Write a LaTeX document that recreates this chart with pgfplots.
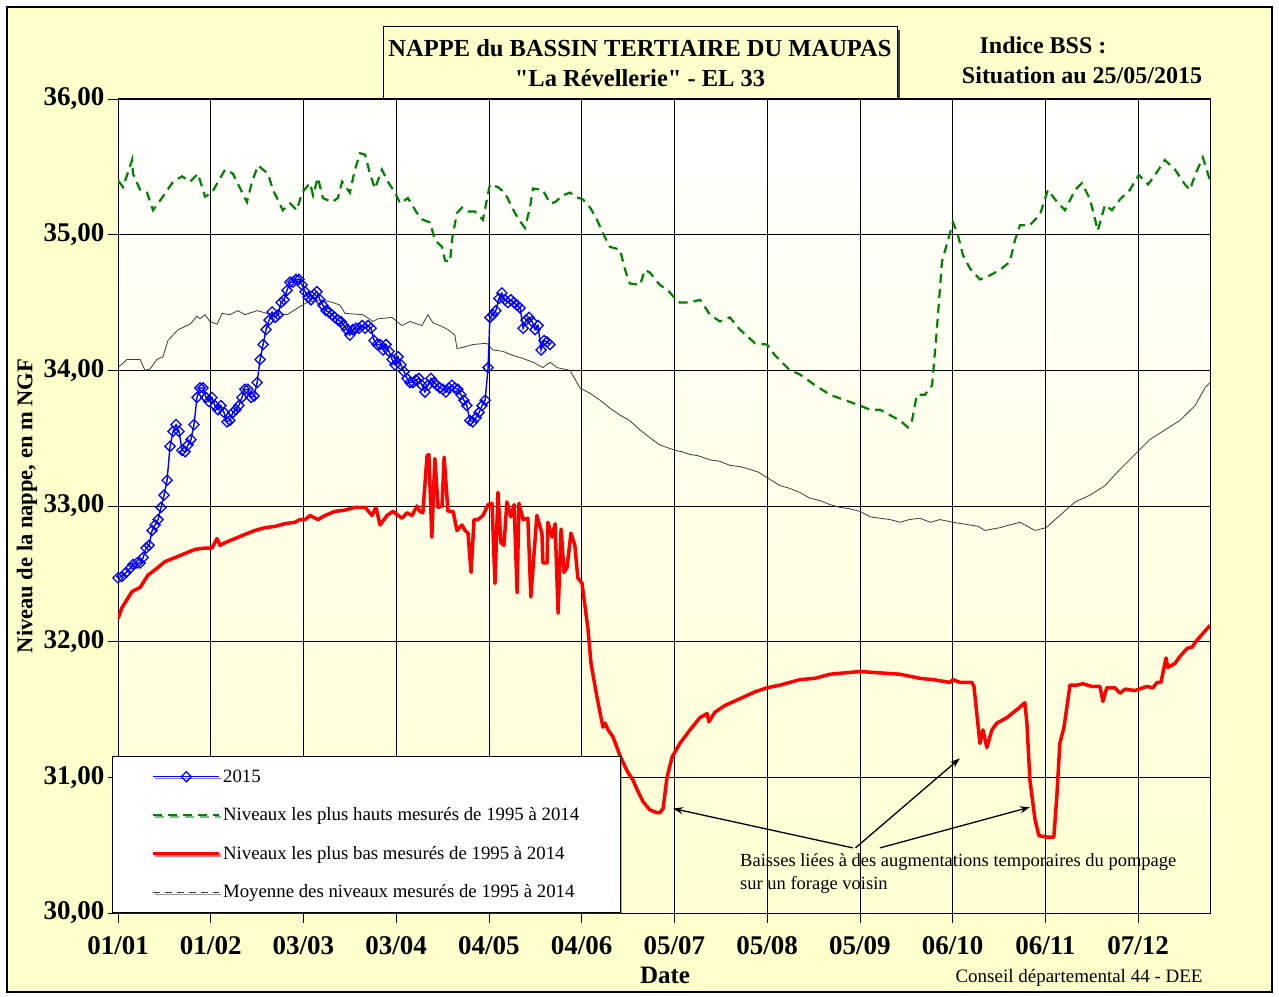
\documentclass[border=0pt]{standalone}
\usepackage{fontspec}
\setmainfont{Liberation Serif}[Ligatures=TeXOff]
\usepackage{pgfplots}
\pgfplotsset{compat=1.18}
\usetikzlibrary{arrows.meta,shadows}
\definecolor{bgyel}{RGB}{255,255,204}
\definecolor{plotyel}{RGB}{255,255,210}
\definecolor{dgreen}{RGB}{0,128,0}
\definecolor{meangray}{RGB}{60,60,60}
\begin{document}
\begin{tikzpicture}
\path[use as bounding box] (0pt,0pt) rectangle (1279pt,996pt);
\fill[white] (0pt,0pt) rectangle (1279pt,996pt);
\filldraw[fill=bgyel, draw=black, line width=2pt] (7pt,4pt) rectangle (1272pt,989pt);
% title box
\fill[black!75] (386pt,891pt) rectangle (900pt,966pt);
\filldraw[fill=bgyel, draw=black, line width=1pt] (383pt,894pt) rectangle (897pt,969pt);
\node[font=\fontsize{24.5}{28}\selectfont\bfseries] at (640pt,948pt) {NAPPE du BASSIN TERTIAIRE DU MAUPAS};
\node[font=\fontsize{24.5}{28}\selectfont\bfseries] at (640pt,918pt) {"La Révellerie" - EL 33};
\node[font=\fontsize{24}{28}\selectfont\bfseries] at (1043pt,951pt) {Indice BSS :};
\node[font=\fontsize{24}{28}\selectfont\bfseries] at (1082pt,921pt) {Situation au 25/05/2015};
\node[font=\fontsize{19}{22}\selectfont, anchor=east] at (1206pt,18pt) {Conseil départemental 44 - DEE};
\begin{axis}[
  at={(118pt,83pt)}, anchor=south west,
  width=1092pt, height=814pt, scale only axis,
  xmin=0, xmax=365, ymin=30, ymax=36,
  axis background/.style={top color=white, bottom color=plotyel},
  axis line style={black, line width=1pt},
  xtick={0,31,62,93,124,155,186,217,248,279,310,341},
  xticklabels={01/01,01/02,03/03,03/04,04/05,04/06,05/07,05/08,05/09,06/10,06/11,07/12},
  ytick={30,31,32,33,34,35,36},
  yticklabels={{30,00},{31,00},{32,00},{33,00},{34,00},{35,00},{36,00}},
  xtick pos=left, ytick pos=left,
  tick align=outside, major tick length=10pt,
  tick style={black, line width=0.8pt},
  grid=major, major grid style={black, line width=0.8pt},
  ticklabel style={font=\fontsize{27}{30}\selectfont\bfseries},
  xticklabel style={yshift=-10pt},
  xlabel={Date}, ylabel={Niveau de la nappe, en m NGF},
  every axis x label/.style={at={(axis description cs:0.501,0)}, anchor=center, yshift=-62pt, font=\fontsize{25}{28}\selectfont\bfseries},
  every axis y label/.style={at={(axis description cs:-0.0833,0.5)}, anchor=center, rotate=90, font=\fontsize{22.5}{26}\selectfont\bfseries},
  legend image code/.code={\draw[mark repeat=2,mark phase=2,#1] plot coordinates {(0pt,0pt) (33pt,0pt) (66pt,0pt)};},
  legend style={at={(rel axis cs:-0.0055,0)}, anchor=south west, draw=black, line width=1.2pt, fill=white,
     font=\fontsize{18.8}{22}\selectfont, inner xsep=39pt, inner ysep=11pt, row sep=20pt,
     drop shadow={shadow xshift=2pt, shadow yshift=-2pt, fill=black!70},
     /tikz/every even column/.append style={column sep=5pt}},
  legend cell align=left,
  clip=true,
]
% 2015
\addplot[blue, line width=1.4pt, mark=square, mark size=3.6pt, mark options={rotate=45, solid, line width=1.3pt}] coordinates {
(0,32.47)(1.3,32.48)(2.7,32.51)(4.0,32.54)(5.0,32.57)(6.4,32.58)(7.4,32.58)(8.4,32.62)(9.4,32.69)(10.4,32.71)
(11.4,32.82)(12.4,32.86)(13.4,32.90)(14.4,32.99)(15.4,33.08)(16.4,33.19)(17.4,33.44)(18.4,33.55)(19.4,33.60)(20.4,33.55)
(21.4,33.41)(22.4,33.40)(23.4,33.45)(24.4,33.49)(25.4,33.60)(26.4,33.80)(27.4,33.87)(28.4,33.87)(29.4,33.80)(30.4,33.77)
(31.4,33.80)(32.4,33.74)(33.4,33.71)(34.4,33.74)(35.4,33.69)(36.4,33.62)(37.4,33.63)(38.4,33.69)(39.4,33.71)(40.4,33.74)
(41.4,33.80)(42.4,33.86)(43.4,33.86)(44.5,33.80)(45.5,33.81)(46.5,33.91)(47.5,34.08)(48.5,34.19)(49.5,34.30)(50.5,34.37)
(51.5,34.43)(52.5,34.39)(53.5,34.41)(54.5,34.50)(55.5,34.52)(56.5,34.59)(57.5,34.65)(58.5,34.65)(59.5,34.67)(60.5,34.67)
(61.5,34.63)(62.5,34.58)(63.5,34.54)(64.5,34.52)(65.5,34.56)(66.5,34.58)(67.5,34.52)(68.5,34.48)(69.5,34.44)(70.5,34.43)
(71.5,34.41)(72.5,34.39)(73.5,34.37)(74.5,34.36)(75.5,34.33)(76.5,34.30)(77.5,34.26)(78.5,34.30)(79.5,34.31)(80.5,34.31)
(81.6,34.33)(82.6,34.31)(83.6,34.33)(84.6,34.31)(85.6,34.22)(86.6,34.19)(87.6,34.19)(88.6,34.15)(89.6,34.19)(90.6,34.14)
(91.6,34.08)(92.6,34.04)(93.6,34.10)(94.6,34.04)(95.6,33.99)(96.6,33.94)(97.6,33.91)(98.6,33.91)(99.6,33.93)(100.6,33.94)
(101.6,33.89)(102.6,33.84)(103.6,33.89)(104.6,33.94)(105.6,33.91)(106.6,33.89)(107.6,33.87)(108.6,33.86)(109.6,33.84)(110.6,33.87)
(111.6,33.89)(112.6,33.87)(113.6,33.86)(114.6,33.82)(115.6,33.78)(116.6,33.74)(117.6,33.63)(118.6,33.62)(119.7,33.65)(120.7,33.69)
(121.7,33.74)(122.7,33.78)(123.7,34.02)(124.3,34.39)(125.3,34.41)(126.3,34.44)(127.3,34.53)(128.3,34.57)(129.3,34.52)(130.3,34.50)
(131.3,34.52)(132.3,34.50)(133.4,34.48)(134.4,34.46)(135.4,34.31)(136.4,34.37)(137.4,34.39)(138.4,34.36)(139.4,34.30)(140.4,34.33)
(141.4,34.15)(142.4,34.22)(143.4,34.21)(144.4,34.19)
};
\addlegendentry{2015}
% highest
\addplot[dgreen, line width=2.2pt, dash pattern=on 9pt off 6pt] coordinates {
(0,35.40)(1.7,35.35)(4.7,35.55)(5.0,35.45)(7.4,35.33)(9.7,35.31)(11.7,35.18)(15.0,35.28)(18.4,35.39)(21.4,35.43)
(24.1,35.39)(26.7,35.45)(29.1,35.28)(31.4,35.31)(35.8,35.48)(38.4,35.45)(43.1,35.24)(44.8,35.39)(46.8,35.51)(50.1,35.45)
(51.8,35.33)(55.1,35.18)(57.5,35.23)(59.8,35.18)(61.5,35.31)(64.2,35.38)(65.2,35.29)(66.8,35.42)(68.5,35.27)(71.5,35.24)
(73.5,35.27)(74.9,35.39)(77.5,35.31)(79.2,35.48)(80.9,35.60)(82.6,35.59)(84.2,35.45)(85.9,35.34)(88.2,35.48)(90.2,35.39)
(92.6,35.31)(94.3,35.23)(96.9,35.27)(99.9,35.16)(101.9,35.11)(104.3,35.09)(105.9,34.96)(108.3,34.91)(109.3,34.81)(111.0,34.80)
(111.6,34.96)(113.3,35.16)(115.0,35.20)(117.0,35.17)(119.3,35.17)(122.0,35.11)(123.3,35.26)(124.3,35.37)(127.0,35.35)(129.3,35.31)
(131.7,35.20)(133.7,35.12)(136.0,35.05)(137.7,35.20)(138.7,35.34)(142.0,35.33)(144.4,35.23)(146.1,35.24)(148.7,35.29)(151.1,35.31)
(152.7,35.28)(155.4,35.26)(157.8,35.20)(160.1,35.11)(162.1,35.01)(164.4,34.91)(167.8,34.89)(169.5,34.74)(171.1,34.64)(174.5,34.63)
(176.1,34.74)(177.8,34.72)(181.1,34.63)(183.8,34.59)(186.2,34.53)(187.8,34.50)(191.2,34.50)(194.5,34.52)(197.9,34.41)(201.2,34.36)
(204.5,34.39)(207.9,34.30)(212.9,34.20)(216.9,34.19)(219.6,34.11)(224.6,34.00)(227.9,33.97)(233.0,33.89)(238.0,33.82)(243.0,33.78)
(248.0,33.74)(251.3,33.71)(254.7,33.71)(258.0,33.67)(261.4,33.63)(264.0,33.58)(265.4,33.63)(267.0,33.82)(269.7,33.82)(272.1,33.89)
(273.7,34.30)(275.4,34.80)(277.4,34.96)(279.1,35.09)(280.7,35.00)(282.4,34.85)(284.8,34.75)(288.1,34.67)(291.4,34.70)(294.8,34.74)
(298.1,34.80)(299.8,34.96)(301.5,35.07)(304.8,35.07)(308.2,35.15)(310.8,35.33)(313.2,35.26)(316.5,35.18)(319.9,35.33)(322.2,35.38)
(324.9,35.26)(327.5,35.03)(329.9,35.22)(332.2,35.18)(334.9,35.26)(338.2,35.33)(341.2,35.44)(344.3,35.37)(346.6,35.44)(349.9,35.55)
(353.3,35.48)(356.6,35.37)(358.3,35.33)(360.0,35.44)(362.6,35.57)(365.0,35.40)
};
\addlegendentry{Niveaux les plus hauts mesurés de 1995 à 2014}
% lowest
\addplot[red, line width=3.5pt, line join=round] coordinates {
(0,32.17)(1.3,32.25)(3.0,32.31)(4.7,32.37)(7.4,32.40)(10.0,32.49)(12.4,32.53)(15.7,32.59)(19.1,32.62)(22.4,32.65)
(25.7,32.68)(29.1,32.69)(31.4,32.69)(33.1,32.76)(34.1,32.71)(35.8,32.73)(39.1,32.76)(42.4,32.79)(45.8,32.82)(49.1,32.84)
(52.5,32.85)(55.8,32.87)(59.2,32.88)(60.8,32.90)(62.5,32.90)(64.2,32.93)(66.8,32.90)(69.2,32.93)(72.5,32.96)(75.9,32.97)
(79.2,32.99)(82.6,32.99)(84.9,32.93)(86.2,32.99)(87.6,32.86)(89.9,32.93)(91.9,32.96)(94.9,32.91)(96.6,32.95)(98.3,32.93)
(99.9,33.00)(100.9,32.96)(101.9,32.95)(103.3,33.37)(103.9,33.38)(104.9,32.77)(105.9,33.35)(107.0,32.99)(108.3,33.00)(109.0,33.36)
(110.3,32.96)(112.0,32.96)(113.3,32.82)(115.0,32.86)(116.0,32.82)(117.0,32.80)(118.0,32.51)(119.0,32.90)(120.3,32.90)(122.0,32.93)
(123.7,33.01)(125.0,33.02)(126.0,32.43)(127.0,33.10)(128.0,32.73)(129.0,32.71)(130.0,33.03)(131.3,32.92)(132.4,33.01)(133.4,32.36)
(134.0,33.02)(135.4,32.90)(137.0,32.91)(138.0,32.33)(140.0,32.93)(141.7,32.80)(142.0,32.58)(143.4,32.58)(143.7,32.88)(145.1,32.77)
(146.1,32.87)(147.1,32.21)(148.1,32.83)(149.1,32.51)(150.1,32.55)(151.4,32.80)(152.7,32.71)(153.7,32.47)(155.1,32.43)(157.1,32.09)
(158.1,31.84)(160.1,31.59)(162.1,31.37)(162.8,31.40)(163.8,31.35)(165.4,31.30)(167.8,31.16)(170.1,31.05)(172.1,30.98)(173.5,30.91)
(175.5,30.82)(177.8,30.76)(180.1,30.74)(181.1,30.74)(182.2,30.77)(183.5,31.00)(185.2,31.15)(187.8,31.25)(191.2,31.35)(194.5,31.44)
(196.9,31.47)(197.5,31.41)(199.5,31.48)(202.9,31.53)(207.9,31.58)(212.9,31.63)(216.9,31.66)(221.3,31.68)(227.9,31.72)(233.0,31.73)
(238.0,31.76)(243.0,31.77)(248.0,31.78)(254.7,31.77)(261.4,31.76)(268.0,31.73)(272.4,31.72)(278.1,31.70)(279.1,31.72)(281.4,31.70)
(285.4,31.70)(286.1,31.67)(288.1,31.25)(289.1,31.35)(290.4,31.22)(292.1,31.35)(293.8,31.40)(297.1,31.44)(300.5,31.50)(303.1,31.55)
(303.8,31.40)(304.8,30.98)(306.5,30.69)(307.8,30.57)(310.5,30.56)(312.8,30.56)(313.8,30.86)(314.8,31.25)(316.2,31.37)(318.2,31.68)
(320.5,31.68)(322.5,31.69)(325.5,31.67)(328.2,31.67)(329.2,31.56)(330.5,31.66)(333.2,31.66)(334.9,31.62)(336.6,31.65)(339.9,31.64)
(343.9,31.67)(345.9,31.66)(347.3,31.70)(348.6,31.70)(350.3,31.88)(350.9,31.81)(353.3,31.84)(354.9,31.89)(357.3,31.95)(359.0,31.96)
(360.6,32.01)(362.6,32.06)(365.0,32.12)
};
\addlegendentry{Niveaux les plus bas mesurés de 1995 à 2014}
% mean
\addplot[meangray, line width=0.8pt, legend image code/.code={\draw[meangray, line width=0.8pt, dash pattern=on 7pt off 5pt] (0pt,0pt) -- (66pt,0pt);}] coordinates {
(0,34.02)(3.0,34.08)(7.4,34.08)(9.0,34.00)(10.7,34.01)(13.0,34.08)(15.0,34.10)(16.7,34.22)(20.1,34.30)(24.1,34.34)
(26.4,34.40)(27.4,34.38)(29.1,34.41)(30.7,34.36)(33.1,34.34)(34.8,34.42)(37.4,34.41)(40.1,34.44)(42.4,34.41)(46.5,34.44)
(49.8,34.42)(52.5,34.42)(56.5,34.41)(60.8,34.47)(63.2,34.50)(67.5,34.52)(71.9,34.50)(74.2,34.48)(75.9,34.42)(81.9,34.41)
(85.2,34.36)(86.9,34.38)(91.6,34.39)(94.9,34.33)(97.6,34.36)(101.6,34.33)(103.6,34.41)(105.3,34.35)(107.6,34.33)(110.3,34.30)
(112.6,34.26)(113.3,34.16)(115.3,34.17)(118.6,34.19)(123.3,34.20)(125.3,34.15)(128.7,34.14)(132.0,34.11)(135.0,34.09)(138.7,34.06)
(142.0,34.02)(144.4,34.06)(146.7,34.02)(151.1,34.00)(154.4,33.87)(157.8,33.83)(161.1,33.78)(164.5,33.72)(167.8,33.67)(171.0,33.63)
(174.5,33.56)(178.0,33.50)(181.1,33.45)(186.2,33.41)(188.5,33.40)(191.2,33.38)(194.0,33.37)(197.9,33.34)(201.0,33.33)(204.5,33.30)
(208.0,33.29)(211.2,33.27)(214.0,33.25)(216.9,33.21)(221.3,33.15)(224.5,33.13)(227.9,33.10)(231.0,33.06)(234.6,33.04)(238.0,33.01)
(241.3,32.99)(244.5,32.98)(248.0,32.96)(251.5,32.92)(254.7,32.91)(258.0,32.90)(261.4,32.88)(264.5,32.90)(268.0,32.91)(271.5,32.88)
(274.7,32.90)(279.1,32.88)(284.8,32.86)(287.5,32.85)(289.8,32.82)(294.8,32.84)(298.0,32.86)(301.5,32.88)(304.0,32.85)(306.5,32.82)
(310.2,32.84)(314.8,32.93)(319.9,33.03)(324.9,33.08)(329.9,33.15)(334.9,33.27)(339.9,33.38)(344.9,33.49)(349.9,33.56)
(354.9,33.63)(360.0,33.74)(363.3,33.87)(365.0,33.91)
};
\addlegendentry{Moyenne des niveaux mesurés de 1995 à 2014}
% annotation
\draw[-{Stealth[length=10pt,width=7pt]}, line width=1.3pt] (axis cs:245.6,30.48) -- (axis cs:185.5,30.77);
\draw[-{Stealth[length=10pt,width=7pt]}, line width=1.3pt] (axis cs:246.5,30.48) -- (axis cs:281.4,31.14);
\draw[-{Stealth[length=10pt,width=7pt]}, line width=1.3pt] (axis cs:254.7,30.48) -- (axis cs:304.8,30.78);
\node[anchor=west, font=\fontsize{18.5}{21}\selectfont, inner sep=0pt] at (axis cs:207.9,30.376) {Baisses liées à des augmentations temporaires du pompage};
\node[anchor=west, font=\fontsize{18.5}{21}\selectfont, inner sep=0pt] at (axis cs:207.9,30.206) {sur un forage voisin};
\end{axis}
\end{tikzpicture}
\end{document}
